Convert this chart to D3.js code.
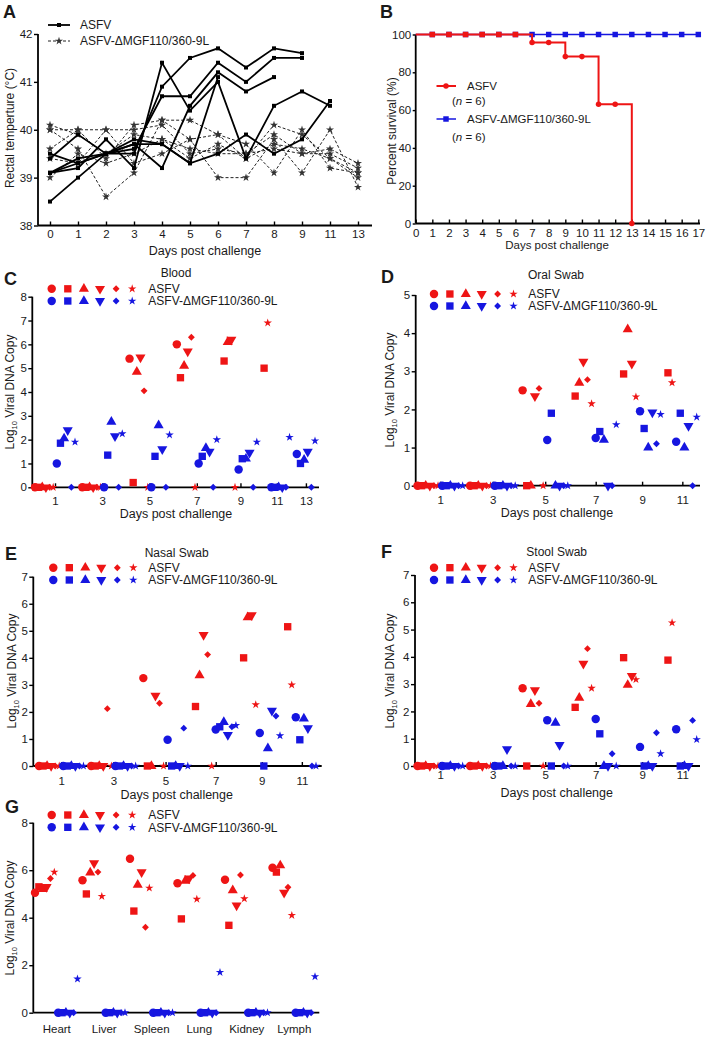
<!DOCTYPE html>
<html>
<head>
<meta charset="utf-8">
<script src="https://cdn.jsdelivr.net/npm/d3@7"></script>
<style>
  body { margin: 0; background: #fff; }
  text { white-space: pre; }
</style>
</head>
<body>
<div id="fig"></div>
<script>
// ---------------------------
// DATA
// ---------------------------

const RED = "#ee1515", BLUE = "#1616e0";
const FONT = "Arial, 'Liberation Sans', Helvetica, sans-serif";

// one marker shape per pig, same order in every panel
const pigShapes = ["circle", "square", "triangle", "triangleDown", "diamond", "star"];

// A: rectal temperature, one row per pig
const tempDays = ["0", "1", "2", "3", "4", "5", "6", "7", "8", "9", "11", "13"];
const tempTicks = [38, 39, 40, 41, 42];
const tempASFV = [
  [39.1, 39.2, 39.8, 39.2, 41.4, 40.4, 41.0, 39.4, 40.5, 40.8, 40.5, null],
  [38.5, 39.0, 39.5, 39.7, 39.7, 39.3, 39.5, 39.9, 39.5, 39.8, 40.6, null],
  [39.4, 39.9, 39.5, 39.5, 40.9, 41.5, 41.7, 41.3, 41.7, 41.6, null, null],
  [39.1, 39.3, 39.5, 39.6, 40.7, 40.7, 41.4, 41.0, 41.5, 41.5, null, null],
  [39.5, 39.3, 39.5, 39.7, 39.2, 40.5, 41.2, 40.8, 41.1, null, null, null],
  [39.1, 39.4, 39.5, 39.8, 39.7, 39.3, 41.1, null, null, null, null, null]
];
const tempMutant = [
  [40.0, 40.0, 40.0, 40.0, 40.1, 39.5, 39.6, 39.5, 39.9, 39.5, 39.5, 39.2],
  [40.0, 39.6, 38.6, 39.1, 40.2, 40.2, 39.9, 39.4, 40.1, 39.9, 39.4, 39.0],
  [39.6, 40.0, 39.4, 40.1, 40.2, 39.8, 39.0, 39.0, 39.8, 39.1, 40.0, 38.8],
  [39.4, 39.3, 40.0, 39.3, 39.5, 39.8, 39.9, 39.7, 39.1, 40.0, 39.2, 39.1],
  [39.0, 39.5, 39.3, 39.5, 39.8, 39.6, 39.5, 39.5, 39.6, 39.5, 39.6, 39.3],
  [40.1, 39.9, 39.5, 39.9, 39.8, 39.4, 39.7, 39.4, 39.7, 39.6, 39.4, 39.1]
];

// B: survival
const survivalDays = [0, 1, 2, 3, 4, 5, 6, 7, 8, 9, 10, 11, 12, 13, 14, 15, 16, 17];
const survivalTicks = [0, 20, 40, 60, 80, 100];
const survivalASFV = [100, 100, 100, 100, 100, 100, 100, 95.8, 95.8, 88.3, 88.3, 63.1, 63.1, 0];
const survivalMutant = [100, 100, 100, 100, 100, 100, 100, 100, 100, 100, 100, 100, 100, 100, 100, 100, 100, 100];

// C: blood, rows = day, columns = pig (null = no sample)
const bloodDays = ["1", "3", "5", "7", "9", "11", "13"];
const bloodTicks = [0, 1, 2, 3, 4, 5, 6, 7, 8];
const bloodASFV = [
  [0, 0, 0, 0, 0, 0],
  [0, 0, 0, 0, 0, 0],
  [5.4, 0.2, 4.85, 5.45, 4.05, 0],
  [6.0, 4.6, 5.1, 5.7, 6.3, 0],
  [null, 5.3, 6.1, 6.2, null, 0],
  [null, 5.0, null, null, null, 6.9],
  [null, null, null, null, null, null]
];
const bloodMutant = [
  [1.0, 1.85, 2.05, 2.4, 0, 1.9],
  [0, 1.35, 2.75, 2.15, 0, 2.25],
  [0, 1.3, 2.6, 1.6, 0, 2.2],
  [1.0, 1.3, 1.65, 1.5, 0, 2.0],
  [0.75, 1.2, 1.2, 1.45, 0, 1.9],
  [0, 0, 0, 0, 0, 2.1],
  [1.4, 1.0, 1.15, 1.5, 0, 1.95]
];

// D, E, F: swabs
const swabDays = ["1", "3", "5", "7", "9", "11"];
const oralTicks = [0, 1, 2, 3, 4, 5];
const swabTicks = [0, 1, 2, 3, 4, 5, 6, 7];
const oralASFV = [
  [0, 0, 0, 0, 0, 0],
  [0, 0, 0, 0, 0, 0],
  [2.5, 0, 0, 2.35, 2.55, 0],
  [null, 2.35, 2.7, 3.25, 2.78, 2.15],
  [null, 2.93, 4.1, 3.2, null, 2.33],
  [null, 2.96, null, null, null, 2.7]
];
const oralMutant = [
  [0, 0, 0, 0, 0, 0],
  [0, 0, 0, 0, 0, 0],
  [1.2, 1.9, 0, 0, 0, 0],
  [1.25, 1.42, 1.2, 0, 0, 1.6],
  [1.95, 1.5, 1.0, 1.92, 1.1, 1.87],
  [1.15, 1.9, 1.0, 1.57, 0, 1.8]
];
const nasalASFV = [
  [0, 0, 0, 0, 0, 0],
  [0, 0, 0, 0, 2.12, 0],
  [3.25, 0, 0, 2.6, 2.32, 0],
  [null, 2.2, 3.35, 4.85, 4.12, 0],
  [null, 4.0, 5.5, 5.58, null, 2.27],
  [null, 5.15, null, null, null, 3.0]
];
const nasalMutant = [
  [0, 0, 0, 0, 0, 0],
  [0, 0, 0, 0, 0, 0],
  [0.97, 0, 0, 0, 1.4, 0],
  [1.35, 1.45, 1.62, 1.15, 1.45, 1.5],
  [1.22, 0, 0.65, 2.05, 1.85, 1.12],
  [1.8, 0.97, 1.75, 1.4, 0, 0]
];
const stoolASFV = [
  [0, 0, 0, 0, 0, 0],
  [0, 0, 0, 0, 0, 0],
  [2.85, 0, 2.27, 2.78, 2.3, 0],
  [null, 2.15, 2.5, 3.75, 4.3, 2.85],
  [null, 3.97, 2.97, 3.3, null, 3.17],
  [null, 3.88, null, null, null, 5.25]
];
const stoolMutant = [
  [0, 0, 0, 0, 0, 0],
  [0, 0, 0, 0.62, 0, 0],
  [1.68, 0, 1.58, 0.77, 0, 0],
  [1.72, 1.18, 0, 0, 0.45, 0],
  [0.7, 0, 0, 0, 1.22, 0.45],
  [1.35, 0, 0, 0, 1.67, 0.97]
];

// G: tissues
const organs = ["Heart", "Liver", "Spleen", "Lung", "Kidney", "Lymph"];
const organTicks = [0, 2, 4, 6, 8];
const organASFV = [
  [5.05, 5.3, 5.2, 5.3, 5.65, 5.92],
  [5.58, 5.0, 5.9, 6.3, 5.92, 4.9],
  [6.48, 4.28, 5.38, 5.92, 3.6, 5.25],
  [5.45, 3.95, 5.55, 5.65, 5.78, 4.78],
  [5.6, 3.68, 5.15, 4.52, 5.8, 4.8],
  [6.1, 5.92, 6.2, 5.05, 5.28, 4.1]
];
const organMutant = [
  [0, 0, 0, 0, 0, 1.42],
  [0, 0, 0, 0, 0, 0],
  [0, 0, 0, 0, 0, 0],
  [0, 0, 0, 0, 0, 1.7],
  [0, 0, 0, 0, 0, 0],
  [0, 0, 0, 0, 0, 1.52]
];

// ---------------------------
// HELPERS
// ---------------------------

const svg = d3.select("#fig").append("svg")
  .attr("width", 707)
  .attr("height", 1037)
  .style("font-family", FONT);

svg.append("rect").attr("width", 707).attr("height", 1037).attr("fill", "#fff");

const symbolTypes = {
  circle: d3.symbolCircle, square: d3.symbolSquare, triangle: d3.symbolTriangle,
  triangleDown: d3.symbolTriangle, diamond: d3.symbolDiamond2, star: d3.symbolStar
};
const symbolSizes = { circle: 56, square: 54, triangle: 44, triangleDown: 44, diamond: 30, star: 22 };
const symbolPath = shape => d3.symbol(symbolTypes[shape], symbolSizes[shape])();
const flip = shape => shape === "triangleDown" ? " rotate(180)" : "";

function styleAxis(g) {
  g.select(".domain").remove();
  g.selectAll("line").attr("stroke", "#000").attr("stroke-width", 1.4);
  g.selectAll("text").attr("font-size", 11.5).attr("fill", "#1a1a1a").attr("font-family", FONT);
}

function axisLine(x1, y1, x2, y2) {
  svg.append("line")
    .attr("x1", x1).attr("y1", y1).attr("x2", x2).attr("y2", y2)
    .attr("stroke", "#000").attr("stroke-width", 1.8);
}

function label(txt, x, y, size, opts = {}) {
  return svg.append("text")
    .attr("x", x).attr("y", y)
    .attr("font-size", size)
    .attr("fill", "#1a1a1a")
    .attr("text-anchor", opts.anchor || "start")
    .attr("font-weight", opts.bold ? "bold" : null)
    .text(txt);
}

function yTitle(x, y, parts) {
  const t = svg.append("text")
    .attr("transform", `translate(${x},${y}) rotate(-90)`)
    .attr("text-anchor", "middle")
    .attr("font-size", 12)
    .attr("fill", "#1a1a1a")
    .attr("dy", "0.35em");
  parts(t);
}

// lay the pigs of each day side by side, skipping missing samples
function layoutSlots(cats, asfv, mutant, gap) {
  const points = [], centers = [];
  let slot = 0;
  cats.forEach((c, i) => {
    const start = slot;
    [[asfv[i], RED], [mutant[i], BLUE]].forEach(([vals, color]) => {
      vals.forEach((v, j) => {
        if (v === null) return;
        points.push({ slot, value: v, shape: pigShapes[j], color });
        slot++;
      });
    });
    centers.push((start + slot - 1) / 2);
    slot += gap;
  });
  return { points, centers, last: slot - gap - 1 };
}

function drawScatter(p) {
  const lay = layoutSlots(p.cats, p.asfv, p.mutant, p.gap);
  const x = d3.scaleLinear().domain([0, lay.last]).range(p.slotPx);
  const y = d3.scaleLinear().domain([0, p.yMax]).range(p.yPx);

  svg.append("g")
    .attr("transform", `translate(${p.axisX[0]},0)`)
    .call(d3.axisLeft(y).tickValues(p.yTicks).tickSize(4).tickPadding(1.5).tickFormat(d3.format("d")))
    .call(styleAxis);

  svg.append("g")
    .attr("transform", `translate(0,${p.yPx[0]})`)
    .call(d3.axisBottom(x).tickValues(lay.centers)
      .tickFormat((d, i) => p.cats[i])
      .tickSize(p.xTickSize).tickPadding(p.xPad))
    .call(styleAxis);

  axisLine(p.axisX[0], p.yPx[1], p.axisX[0], p.yPx[0]);
  axisLine(p.axisX[0], p.yPx[0], p.axisX[1], p.yPx[0]);

  svg.append("g").selectAll("path")
    .data(lay.points)
    .join("path")
    .attr("transform", d => `translate(${x(d.slot)},${y(d.value)})${flip(d.shape)}`)
    .attr("d", d => symbolPath(d.shape))
    .attr("fill", d => d.color);

  // legend
  const lg = svg.append("g");
  [RED, BLUE].forEach((color, k) => {
    pigShapes.forEach((s, j) => {
      lg.append("path")
        .attr("transform", `translate(${p.legend.x + j * p.legend.step},${p.legend.y[k]})${flip(s)}`)
        .attr("d", symbolPath(s))
        .attr("fill", color);
    });
  });
  label("ASFV", p.legend.textX, p.legend.y[0], 12).attr("dy", "0.35em");
  label("ASFV-ΔMGF110/360-9L", p.legend.textX, p.legend.y[1], 12).attr("dy", "0.35em");

  if (p.title) label(p.title[0], p.title[1], p.title[2], 12, { anchor: "middle" });
  if (p.xLabel) label("Days post challenge", p.xLabel[0], p.xLabel[1], 12.5, { anchor: "middle" });
  label(p.letter[0], p.letter[1], p.letter[2], 18, { bold: true });

  yTitle(p.yTitle[0], p.yTitle[1], t => {
    t.append("tspan").text("Log");
    t.append("tspan").attr("font-size", 7.5).attr("dy", 3).text("10");
    t.append("tspan").attr("dy", -3).text(" Viral DNA Copy");
  });
}

// ---------------------------
// A: RECTAL TEMPERATURE
// ---------------------------

const xA = d3.scalePoint().domain(tempDays).range([50, 358]);
const yA = d3.scaleLinear().domain([38, 42]).range([225.5, 34]);
const toSeries = row => row.map((t, i) => ({ day: tempDays[i], t }));
const tempLine = d3.line().defined(d => d.t !== null).x(d => xA(d.day)).y(d => yA(d.t));

svg.append("g")
  .attr("transform", "translate(38,0)")
  .call(d3.axisLeft(yA).tickValues(tempTicks).tickSize(4).tickPadding(1.5).tickFormat(d3.format("d")))
  .call(styleAxis);
svg.append("g")
  .attr("transform", "translate(0,225.5)")
  .call(d3.axisBottom(xA).tickSize(-4).tickPadding(4))
  .call(styleAxis);
axisLine(38, 34, 38, 225.5);
axisLine(38, 225.5, 372, 225.5);

const mutantG = svg.append("g");
tempMutant.forEach(row => {
  const s = toSeries(row);
  mutantG.append("path").datum(s)
    .attr("d", tempLine)
    .attr("fill", "none")
    .attr("stroke", "#222")
    .attr("stroke-width", 1)
    .attr("stroke-dasharray", "3,2");
  mutantG.selectAll(null).data(s.filter(d => d.t !== null)).join("path")
    .attr("transform", d => `translate(${xA(d.day)},${yA(d.t)})`)
    .attr("d", d3.symbol(d3.symbolStar, 20)())
    .attr("fill", "#333");
});

const asfvG = svg.append("g");
tempASFV.forEach(row => {
  const s = toSeries(row);
  asfvG.append("path").datum(s)
    .attr("d", tempLine)
    .attr("fill", "none")
    .attr("stroke", "#000")
    .attr("stroke-width", 1.8);
  asfvG.selectAll(null).data(s.filter(d => d.t !== null)).join("path")
    .attr("transform", d => `translate(${xA(d.day)},${yA(d.t)})`)
    .attr("d", d3.symbol(d3.symbolSquare, 16)())
    .attr("fill", "#000");
});

// legend A
svg.append("line").attr("x1", 48).attr("x2", 70).attr("y1", 25).attr("y2", 25)
  .attr("stroke", "#000").attr("stroke-width", 1.8);
svg.append("path").attr("transform", "translate(59,25)").attr("d", d3.symbol(d3.symbolSquare, 16)());
svg.append("line").attr("x1", 48).attr("x2", 70).attr("y1", 41).attr("y2", 41)
  .attr("stroke", "#222").attr("stroke-width", 1).attr("stroke-dasharray", "3,2");
svg.append("path").attr("transform", "translate(59,41)").attr("d", d3.symbol(d3.symbolStar, 20)()).attr("fill", "#333");
label("ASFV", 80, 25, 12).attr("dy", "0.35em");
label("ASFV-ΔMGF110/360-9L", 80, 41, 12).attr("dy", "0.35em");

label("A", 3, 18, 18, { bold: true });
label("Days post challenge", 205, 255, 12.5, { anchor: "middle" });
yTitle(10, 128, t => t.text("Rectal temperture (°C)"));

// ---------------------------
// B: SURVIVAL
// ---------------------------

const xB = d3.scaleLinear().domain([0, 17]).range([415.7, 698.3]);
const yB = d3.scaleLinear().domain([0, 100]).range([223.5, 34.5]);

svg.append("g")
  .attr("transform", "translate(415.7,0)")
  .call(d3.axisLeft(yB).tickValues(survivalTicks).tickSize(3).tickPadding(1.5))
  .call(styleAxis);
svg.append("g")
  .attr("transform", "translate(0,223.5)")
  .call(d3.axisBottom(xB).tickValues(survivalDays).tickSize(-4).tickPadding(5.5))
  .call(styleAxis);
axisLine(415.7, 34.5, 415.7, 223.5);
axisLine(415.7, 223.5, 700, 223.5);

const stepLine = d3.line().curve(d3.curveStepAfter).x(d => xB(d.day)).y(d => yB(d.v));
const mutantSurv = survivalMutant.map((v, i) => ({ day: survivalDays[i], v }));
const asfvSurv = survivalASFV.map((v, i) => ({ day: survivalDays[i], v }));

svg.append("path").datum(mutantSurv)
  .attr("d", stepLine).attr("fill", "none").attr("stroke", BLUE).attr("stroke-width", 1.5);
svg.append("g").selectAll("path")
  .data(mutantSurv.filter(d => d.day > 0))
  .join("path")
  .attr("transform", d => `translate(${xB(d.day)},${yB(d.v)})`)
  .attr("d", d3.symbol(d3.symbolSquare, 30)())
  .attr("fill", BLUE);

svg.append("path").datum(asfvSurv)
  .attr("d", stepLine).attr("fill", "none").attr("stroke", RED).attr("stroke-width", 2);
svg.append("g").selectAll("path")
  .data(asfvSurv.filter(d => d.day > 0))
  .join("path")
  .attr("transform", d => `translate(${xB(d.day)},${yB(d.v)})`)
  .attr("d", d => d.v === 100 ? d3.symbol(d3.symbolSquare, 30)() : d3.symbol(d3.symbolCircle, 24)())
  .attr("fill", RED);

// legend B
svg.append("line").attr("x1", 436.5).attr("x2", 456).attr("y1", 86).attr("y2", 86)
  .attr("stroke", RED).attr("stroke-width", 2);
svg.append("path").attr("transform", "translate(446,86)").attr("d", d3.symbol(d3.symbolCircle, 24)()).attr("fill", RED);
svg.append("line").attr("x1", 436.5).attr("x2", 456).attr("y1", 119).attr("y2", 119)
  .attr("stroke", BLUE).attr("stroke-width", 1.5);
svg.append("path").attr("transform", "translate(446,119)").attr("d", d3.symbol(d3.symbolSquare, 30)()).attr("fill", BLUE);

label("ASFV", 467, 86, 11.5).attr("dy", "0.35em");
label("ASFV-ΔMGF110/360-9L", 467, 119, 11.5).attr("dy", "0.35em");
[100.5, 137].forEach(yy => {
  const t = label("(", 452, yy, 11.5).attr("dy", "0.35em");
  t.append("tspan").attr("font-style", "italic").text("n");
  t.append("tspan").text(" = 6)");
});

label("B", 380, 18, 18, { bold: true });
label("Days post challenge", 557, 248.5, 11.5, { anchor: "middle" });
yTitle(392, 131, t => t.text("Percent survival (%)"));

// ---------------------------
// C - G: VIRAL DNA
// ---------------------------

drawScatter({
  cats: bloodDays, asfv: bloodASFV, mutant: bloodMutant, gap: 1,
  slotPx: [35, 315], axisX: [32.3, 319], yPx: [487.3, 296.7], yMax: 8, yTicks: bloodTicks,
  xTickSize: -4, xPad: 10,
  legend: { x: 51.7, step: 16.1, y: [288.8, 301], textX: 148.3 },
  title: ["Blood", 176, 277], xLabel: [176, 518], letter: ["C", 4, 285], yTitle: [10, 392]
});

drawScatter({
  cats: swabDays, asfv: oralASFV, mutant: oralMutant, gap: 0.8,
  slotPx: [417.5, 696.7], axisX: [415.7, 700], yPx: [485.7, 295], yMax: 5, yTicks: oralTicks,
  xTickSize: -4, xPad: 10,
  legend: { x: 434, step: 15.9, y: [294, 306], textX: 528.3 },
  title: ["Oral Swab", 556, 279], xLabel: [557, 517], letter: ["D", 381, 283], yTitle: [390, 390]
});

drawScatter({
  cats: swabDays, asfv: nasalASFV, mutant: nasalMutant, gap: 0.9,
  slotPx: [39, 316], axisX: [33.3, 321.7], yPx: [766, 576.7], yMax: 7, yTicks: swabTicks,
  xTickSize: -4, xPad: 10.5,
  legend: { x: 53.3, step: 16, y: [567.7, 580], textX: 148.3 },
  title: ["Nasal Swab", 176.7, 557], xLabel: [176.7, 799], letter: ["E", 5, 560], yTitle: [11.5, 671]
});

drawScatter({
  cats: swabDays, asfv: stoolASFV, mutant: stoolMutant, gap: 0.8,
  slotPx: [417.5, 696.7], axisX: [415, 700], yPx: [766, 575], yMax: 7, yTicks: swabTicks,
  xTickSize: -4, xPad: 4.5,
  legend: { x: 434, step: 15.9, y: [567.7, 580], textX: 528.3 },
  title: ["Stool Swab", 556.7, 556], xLabel: [556.7, 796.5], letter: ["F", 381, 558], yTitle: [390, 671]
});

drawScatter({
  cats: organs, asfv: organASFV, mutant: organMutant, gap: 0.3,
  slotPx: [35, 315], axisX: [33.3, 319.3], yPx: [1012.7, 822.7], yMax: 8, yTicks: organTicks,
  xTickSize: 0, xPad: 12,
  legend: { x: 51.7, step: 16.1, y: [815, 827.3], textX: 148.3 },
  title: null, xLabel: null, letter: ["G", 5, 813], yTitle: [10, 918]
});
</script>
</body>
</html>
